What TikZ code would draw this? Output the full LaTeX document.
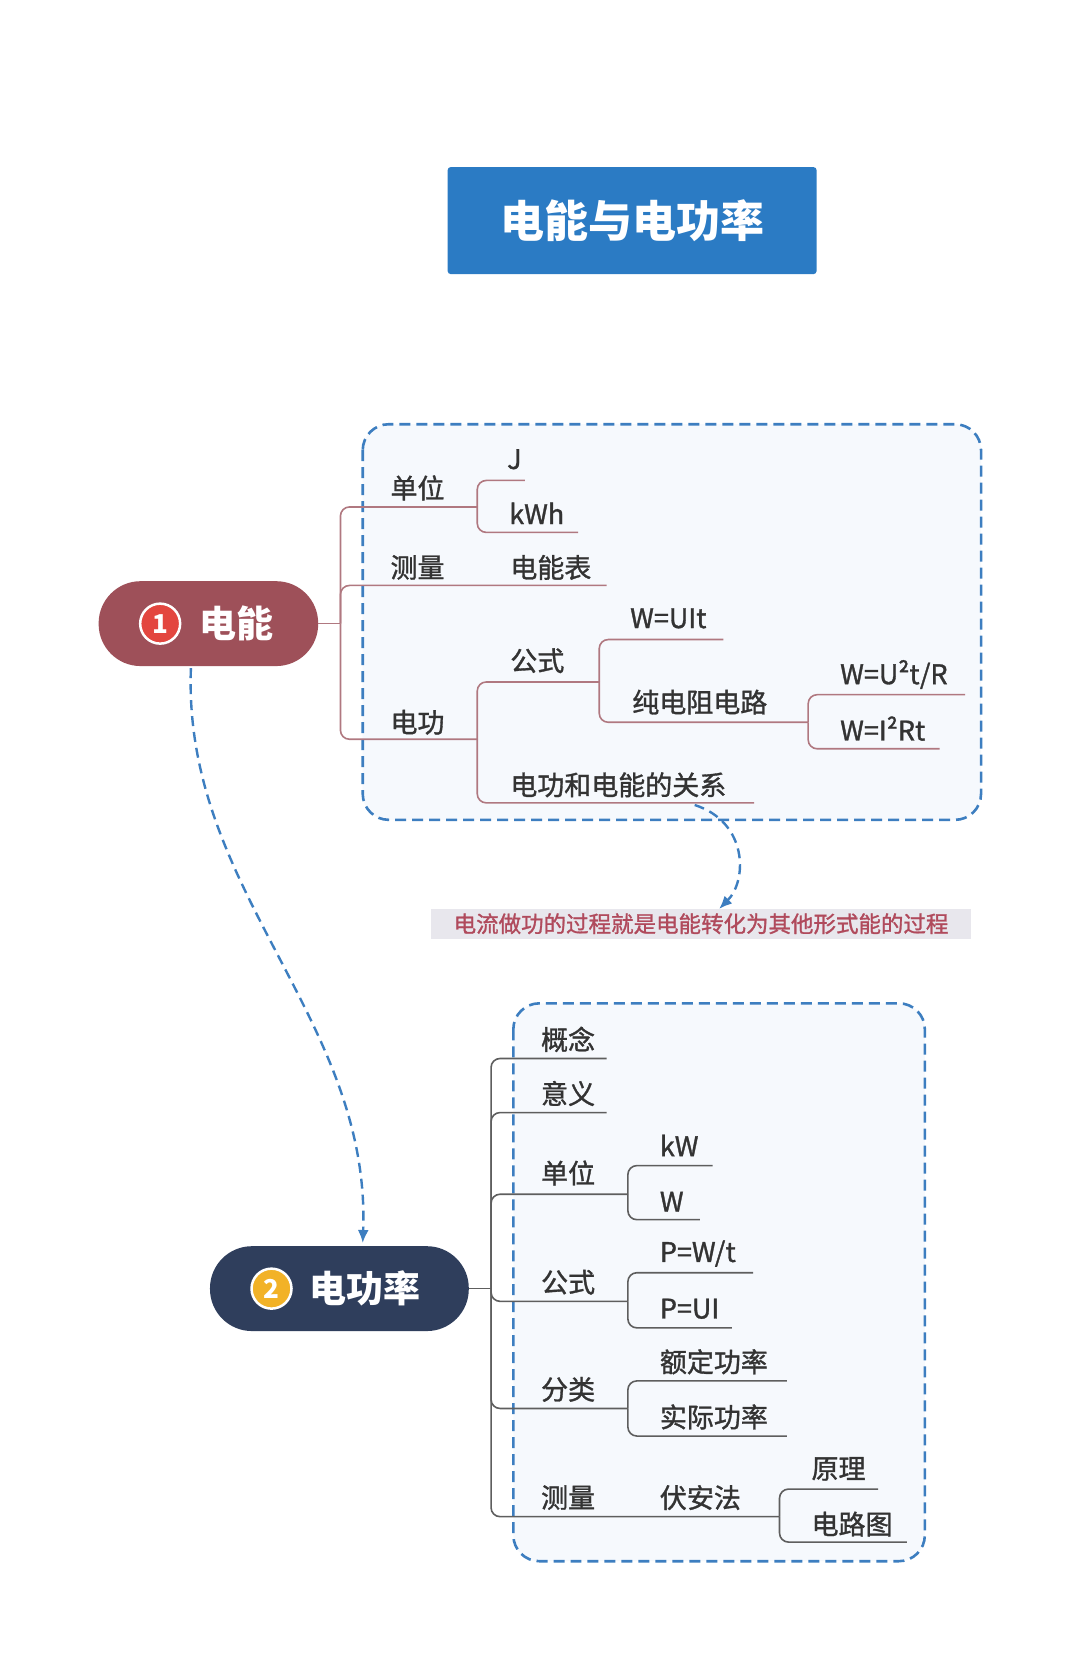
\documentclass[tikz,border=0pt]{standalone}
\usepackage{fontspec}
\setmainfont{Noto Sans CJK SC}
\newfontfamily\medfont{Noto Sans CJK SC}[FakeBold=1.2]
\usetikzlibrary{arrows.meta}
\definecolor{titleblue}{HTML}{2B7BC4}
\definecolor{nodeone}{HTML}{9E5059}
\definecolor{nodetwo}{HTML}{2F3E5C}
\definecolor{circred}{HTML}{E3463F}
\definecolor{circyel}{HTML}{F2B227}
\definecolor{boxblue}{HTML}{3D7EC0}
\definecolor{boxfill}{HTML}{F6F9FD}
\definecolor{lineone}{HTML}{B07880}
\definecolor{linetwo}{HTML}{5E5E5E}
\definecolor{textgray}{HTML}{333333}
\definecolor{notefill}{HTML}{E8E7ED}
\definecolor{notetext}{HTML}{B04A5C}
\begin{document}
\begin{tikzpicture}[x=1.0609pt,y=-1.0609pt,
  txt/.style={anchor=west, inner sep=0pt, text=textgray, font=\medfont\fontsize{27}{30}\selectfont},
  lone/.style={draw=lineone, line width=1.6pt, rounded corners=9pt},
  ltwo/.style={draw=linetwo, line width=1.6pt, rounded corners=9pt},
  dashbox/.style={draw=boxblue, fill=boxfill, line width=2.6pt, dash pattern=on 11pt off 6pt, rounded corners=26pt},
  dasharrow/.style={draw=boxblue, line width=2.4pt, dash pattern=on 10pt off 6pt, -{Latex[length=13pt,width=11pt]}},
  topic/.style={inner sep=0pt, rounded corners=42pt, minimum height=84.9pt},
  numcirc/.style={circle, draw=white, line width=2.5pt, minimum size=40pt, inner sep=0pt, text=white, font=\fontsize{26}{26}\selectfont\bfseries}
]
\useasboundingbox[fill=white] (0,0) rectangle (1018,1568);

% title
\node[fill=titleblue, rounded corners=3pt, minimum width=369pt, minimum height=107pt, text=white,
  font=\fontsize{44}{48}\selectfont\bfseries] (title) at (596,208) {电能与电功率};

% boxes
\draw[dashbox] (342,400) rectangle (925,773);
\draw[dashbox] (484,946) rectangle (872,1472);

% note
\node[fill=notefill, minimum width=540pt, minimum height=30pt, inner sep=0pt, text=notetext,
  font=\medfont\fontsize{22.5}{24}\selectfont] (note) at (661,871) {电流做功的过程就是电能转化为其他形式能的过程};

% main topic 1
\node[topic, fill=nodeone, minimum width=219.6pt] (n1) at (196.5,588) {};
\node[numcirc, fill=circred] (c1) at (151,588) {1};
\node[anchor=west, inner sep=0pt, text=white, font=\fontsize{37}{40}\selectfont\bfseries] (n1t) at (188,588) {电能};

% main topic 2
\node[topic, fill=nodetwo, minimum width=258.9pt] (n2) at (320,1215) {};
\node[numcirc, fill=circyel] (c2) at (256,1215) {2};
\node[anchor=west, inner sep=0pt, text=white, font=\fontsize{37}{40}\selectfont\bfseries] (n2t) at (292,1215) {电功率};

% ---------- branch 1 ----------
\coordinate (t1) at (321,588);
\coordinate (e-dw1) at (450,478);
\coordinate (e-J) at (495,453);
\coordinate (e-kWh) at (545,502);
\coordinate (e-cl1) at (572,552);
\coordinate (e-dg) at (450,697);
\coordinate (e-gs1) at (565,643);
\coordinate (e-gx) at (711,757);
\coordinate (e-UIt) at (682,603);
\coordinate (e-cdz) at (762,681);
\coordinate (e-U2) at (910,655);
\coordinate (e-I2) at (886,706);

\node[txt] (dw1) at (368,460) {单位};
\node[txt] (J) at (478,433) {J};
\node[txt] (kWh) at (480,484) {kWh};
\node[txt] (cl1) at (368,535) {测量};
\node[txt] (dnb) at (481,535) {电能表};
\node[txt] (dg) at (368,681) {电功};
\node[txt] (gs1) at (481,623) {公式};
\node[txt] (UIt) at (594,583) {W=UIt};
\node[txt] (cdz) at (596,662) {纯电阻电路};
\node[txt] (U2) at (792,636) {W=U²t/R};
\node[txt] (I2) at (792,687) {W=I²Rt};
\node[txt] (gx) at (481,740) {电功和电能的关系};

\draw[lone] (n1.east) -- (t1);
\draw[lone] (t1) |- (e-dw1);
\draw[lone] (t1) |- (e-cl1);
\draw[lone] (t1) |- (e-dg);
\draw[lone] (e-dw1) |- (e-J);
\draw[lone] (e-dw1) |- (e-kWh);
\draw[lone] (e-dg) |- (e-gs1);
\draw[lone] (e-dg) |- (e-gx);
\draw[lone] (e-gs1) |- (e-UIt);
\draw[lone] (e-gs1) |- (e-cdz);
\draw[lone] (e-cdz) |- (e-U2);
\draw[lone] (e-cdz) |- (e-I2);

% ---------- branch 2 ----------
\coordinate (t2) at (463,1215);
\coordinate (e-gn) at (572,998);
\coordinate (e-yy) at (572,1049);
\coordinate (e-dw2) at (592,1126);
\coordinate (e-kW) at (672,1099);
\coordinate (e-W) at (660,1150);
\coordinate (e-gs2) at (592,1227);
\coordinate (e-PWt) at (710,1200);
\coordinate (e-PUI) at (690,1252);
\coordinate (e-fl) at (592,1328);
\coordinate (e-ed) at (742,1302);
\coordinate (e-sj) at (742,1354);
\coordinate (e-cl2) at (735,1430);
\coordinate (e-yl) at (828,1404);
\coordinate (e-dlt) at (855,1454);

\node[txt] (gn) at (510,980) {概念};
\node[txt] (yy) at (510,1031) {意义};
\node[txt] (dw2) at (510,1106) {单位};
\node[txt] (kW) at (622,1080) {kW};
\node[txt] (W) at (622,1133) {W};
\node[txt] (gs2) at (510,1209) {公式};
\node[txt] (PWt) at (622,1182) {P=W/t};
\node[txt] (PUI) at (622,1234) {P=UI};
\node[txt] (fl) at (510,1310) {分类};
\node[txt] (ed) at (622,1284) {额定功率};
\node[txt] (sj) at (622,1336) {实际功率};
\node[txt] (cl2) at (510,1412) {测量};
\node[txt] (faf) at (622,1412) {伏安法};
\node[txt] (yl) at (765,1385) {原理};
\node[txt] (dlt) at (765,1437) {电路图};

\draw[ltwo] (n2.east) -- (t2);
\draw[ltwo] (t2) |- (e-gn);
\draw[ltwo] (t2) |- (e-yy);
\draw[ltwo] (t2) |- (e-dw2);
\draw[ltwo] (t2) |- (e-gs2);
\draw[ltwo] (t2) |- (e-fl);
\draw[ltwo] (t2) |- (e-cl2);
\draw[ltwo] (e-dw2) |- (e-kW);
\draw[ltwo] (e-dw2) |- (e-W);
\draw[ltwo] (e-gs2) |- (e-PWt);
\draw[ltwo] (e-gs2) |- (e-PUI);
\draw[ltwo] (e-fl) |- (e-ed);
\draw[ltwo] (e-fl) |- (e-sj);
\draw[ltwo] (e-cl2) |- (e-yl);
\draw[ltwo] (e-cl2) |- (e-dlt);

% dashed arrows
\coordinate (a1s) at (655,759);
\coordinate (a1e) at (678,857);
\draw[dasharrow] (a1s) .. controls (705,775) and (705,830) .. (a1e);
\coordinate (a2s) at (180,630);
\coordinate (a2e) at (342,1172);
\draw[dasharrow] (a2s) .. controls (172,840) and (350,960) .. (a2e);
\end{tikzpicture}
\end{document}
